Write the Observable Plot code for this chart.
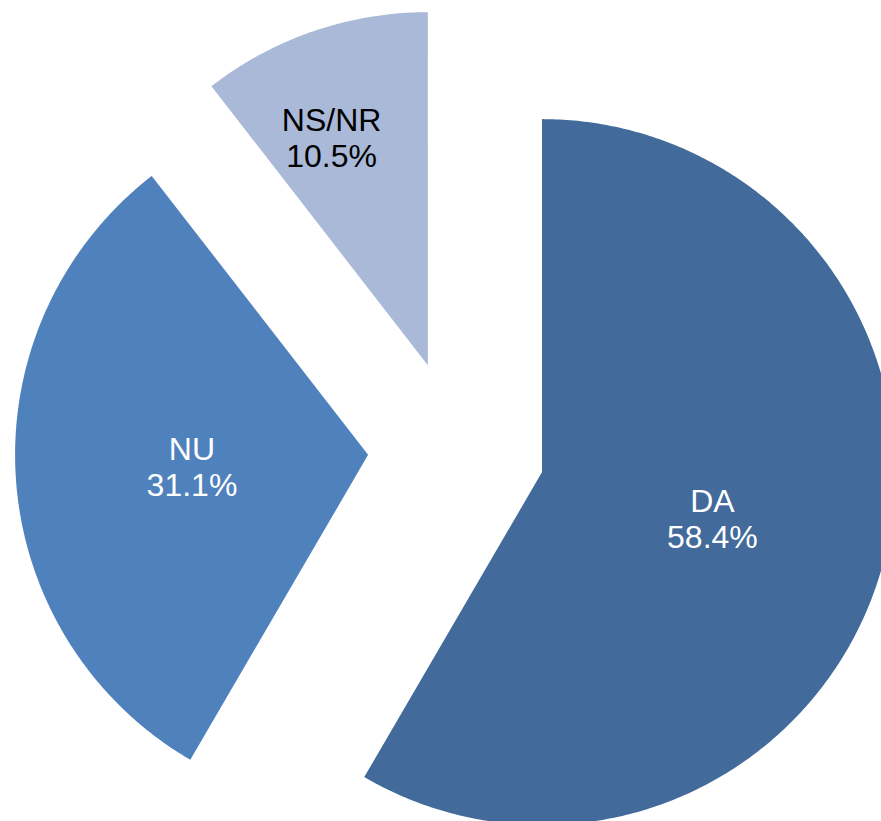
<!DOCTYPE html>
<html>
<head>
<meta charset="utf-8">
<script src="https://cdn.jsdelivr.net/npm/d3@7"></script>
<script src="https://cdn.jsdelivr.net/npm/@observablehq/plot@0.6"></script>
<style>
  html, body { margin: 0; padding: 0; background: #ffffff; }
  #chart svg { display: block; }
</style>
</head>
<body>
<div id="chart"></div>
<script>
const categories = ["DA", "NU", "NS/NR"];
const shares = [58.4, 31.1, 10.5];
const sliceColors = ["#426A9B", "#4F81BD", "#AAB9D8"];
const labelColors = ["#ffffff", "#ffffff", "#000000"];

const W = 881, H = 821;
const R = 353;            // pie radius in pixels
const cx = 456, cy = 448.5; // pie centre in pixels
const explode = 0.251;    // explode offset as fraction of radius

const arcs = d3.pie().sort(null).value(d => d)(shares);

// polygon points for each slice in unit coordinates (y up)
const polyPoints = [];
const labelPoints = [];
arcs.forEach((a, i) => {
  const mid = (a.startAngle + a.endAngle) / 2;
  const ox = explode * Math.sin(mid), oy = explode * Math.cos(mid);
  const pts = [[ox, oy]];
  const n = Math.max(8, Math.ceil((a.endAngle - a.startAngle) / 0.01));
  for (let k = 0; k <= n; k++) {
    const t = a.startAngle + (a.endAngle - a.startAngle) * k / n;
    pts.push([ox + Math.sin(t), oy + Math.cos(t)]);
  }
  pts.push([ox, oy]);
  pts.forEach(([x, y]) => polyPoints.push({key: categories[i], x, y}));
  const small = shares[i] < 20;
  const lr = small ? 0.70 : 0.50;
  const la = small ? mid - 0.07 : mid;
  labelPoints.push({
    key: categories[i],
    x: ox + lr * Math.sin(la),
    y: oy + lr * Math.cos(la),
    text: categories[i] + "\n" + d3.format(".1f")(shares[i]) + "%",
    color: labelColors[i]
  });
});

const chart = Plot.plot({
  width: W,
  height: H,
  margin: 0,
  style: {background: "#ffffff", fontFamily: "'Liberation Sans', Arial, sans-serif"},
  x: {domain: [-cx / R, (W - cx) / R], axis: null},
  y: {domain: [-(H - cy) / R, cy / R], axis: null},
  color: {domain: categories, range: sliceColors},
  marks: [
    Plot.line(polyPoints, {x: "x", y: "y", z: "key", fill: "key", stroke: "none", curve: "linear"}),
    Plot.text(labelPoints, {
      x: "x", y: "y", text: "text", fill: "color",
      fontSize: 32, lineHeight: 1.13,
      fontFamily: "'Liberation Sans', Arial, sans-serif"
    })
  ]
});

document.getElementById("chart").appendChild(chart);
</script>
</body>
</html>
